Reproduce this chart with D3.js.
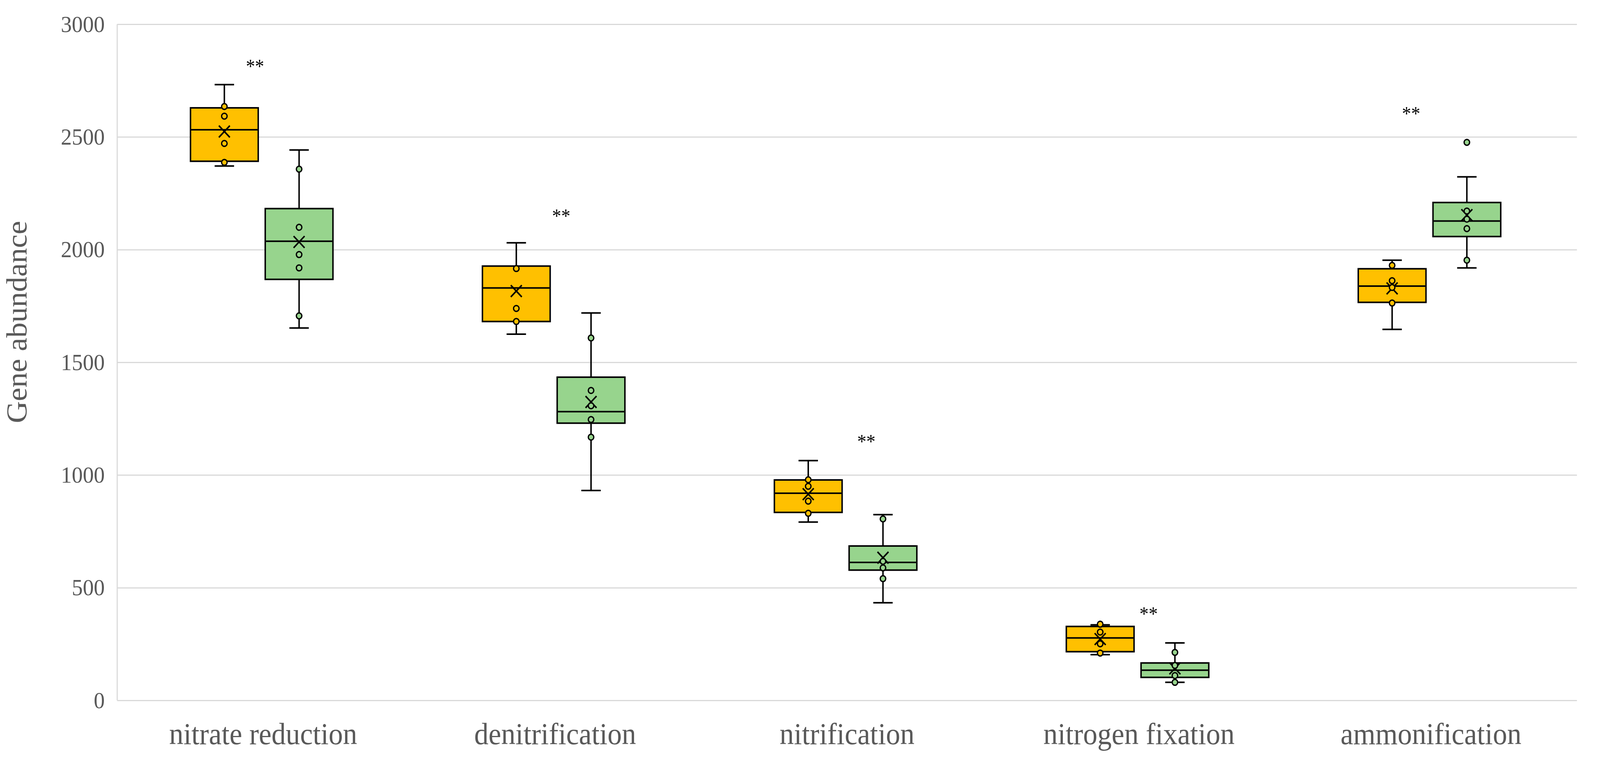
<!DOCTYPE html>
<html>
<head>
<meta charset="utf-8">
<script src="https://cdn.jsdelivr.net/npm/d3@7"></script>
<style>
  html, body { margin: 0; padding: 0; background: #fff; overflow: hidden; }
  svg { display: block; }
  text { font-family: "Liberation Serif", "DejaVu Serif", serif; }
</style>
</head>
<body>
<svg id="chart"></svg>
<script>
// categories on the x axis
var categories = ["nitrate reduction", "denitrification", "nitrification", "nitrogen fixation", "ammonification"];
var series = ["orange", "green"];

// box stats per category: [whisker low, q1, median, q3, whisker high]
var orangeBoxes = [
    [2371, 2392, 2532, 2629, 2732],
    [1625, 1681, 1830, 1927, 2030],
    [791, 834, 919, 978, 1064],
    [203, 216, 277, 328, 335],
    [1646, 1766, 1838, 1915, 1953]
];
var greenBoxes = [
    [1652, 1868, 2037, 2182, 2442],
    [931, 1230, 1281, 1434, 1719],
    [433, 578, 612, 685, 824],
    [80, 102, 134, 166, 255],
    [1919, 2058, 2127, 2209, 2323]
];

// means (x markers)
var orangeMeans = [2524, 1816, 915, 272, 1828];
var greenMeans = [2034, 1324, 633, 142, 2153];

// inner points shown in each box
var orangePoints = [
    [2635, 2592, 2471, 2387],
    [1916, 1739, 1681],
    [979, 950, 884, 830],
    [338, 303, 251, 210],
    [1930, 1862, 1832, 1763]
];
var greenPoints = [
    [2357, 2099, 1978, 1919, 1706],
    [1608, 1375, 1307, 1246, 1168],
    [805, 617, 588, 540],
    [213, 155, 110, 80],
    [2476, 2171, 2135, 2093, 1953]
];

// significance marks, height in data units
var starLabels = ["**", "**", "**", "**", "**"];
var starValues = [2839, 2174, 1174, 409, 2629];

var yTicks = [0, 500, 1000, 1500, 2000, 2500, 3000];

// layout
var W = 4368, H = 1942;
var margin = {top: 62, right: 63, bottom: 150, left: 320};
var width = W - margin.left - margin.right,
    height = H - margin.top - margin.bottom;
var starShift = [-0.028, 0.021, 0.066, 0.033, -0.068]; // fraction of band, hand placed labels
var colors = {orange: "#FFC000", green: "#97D48D"};
var textColor = "#595959";

// drawn in a 4368x1942 frame, stretched to whatever the window is
var root = d3.select("#chart")
    .attr("viewBox", "0 0 " + W + " " + H)
    .attr("preserveAspectRatio", "none")
    .style("width", "100vw")
    .style("height", "100vh");

var svg = root.append("g")
    .attr("transform", "translate(" + margin.left + "," + margin.top + ")");

// scales
var x = d3.scaleBand().domain(categories).range([0, width]);
var bw = x.bandwidth();
var xs = d3.scalePoint().domain(series).range([bw * 0.367, bw * 0.623]);
var y = d3.scaleLinear().domain([0, 3000]).range([height, 0]);

var boxW = bw * 0.232, capW = 53, markR = 15;

// gridlines
var yAxis = svg.append("g")
    .call(d3.axisLeft(y).tickValues(yTicks).tickSize(-width).tickFormat(d3.format("d")).tickPadding(34));
yAxis.select(".domain").remove();
yAxis.selectAll(".tick line").attr("stroke", "#D9D9D9").attr("stroke-width", 3);
yAxis.selectAll(".tick text")
    .attr("fill", textColor)
    .style("font-size", "60px");

// left axis line
svg.append("line")
    .attr("x1", 0).attr("x2", 0)
    .attr("y1", y(3000)).attr("y2", y(0))
    .attr("stroke", "#D9D9D9").attr("stroke-width", 3);

// x axis labels
var xAxis = svg.append("g")
    .attr("transform", "translate(0," + height + ")")
    .call(d3.axisBottom(x).tickSize(0).tickPadding(57));
xAxis.select(".domain").remove();
xAxis.selectAll(".tick text")
    .attr("fill", textColor)
    .style("font-size", "78px");

// y axis title
svg.append("text")
    .attr("transform", "rotate(-90)")
    .attr("x", -(y(0) + y(3000)) / 2 + 103)
    .attr("y", -margin.left + 72)
    .style("text-anchor", "middle")
    .style("font-size", "78px")
    .attr("fill", textColor)
    .text("Gene abundance");

// build one list of boxes
var boxes = [];
categories.forEach(function(c, i) {
    boxes.push({cat: c, s: "orange", st: orangeBoxes[i], mean: orangeMeans[i], pts: orangePoints[i]});
    boxes.push({cat: c, s: "green", st: greenBoxes[i], mean: greenMeans[i], pts: greenPoints[i]});
});

var g = svg.selectAll(".box")
    .data(boxes)
    .enter()
    .append("g")
    .attr("class", "box")
    .attr("transform", function(d) { return "translate(" + (x(d.cat) + xs(d.s)) + ",0)"; });

// whiskers
g.append("line")
    .attr("x1", 0).attr("x2", 0)
    .attr("y1", function(d) { return y(d.st[4]); })
    .attr("y2", function(d) { return y(d.st[3]); })
    .attr("stroke", "#000").attr("stroke-width", 4);
g.append("line")
    .attr("x1", 0).attr("x2", 0)
    .attr("y1", function(d) { return y(d.st[1]); })
    .attr("y2", function(d) { return y(d.st[0]); })
    .attr("stroke", "#000").attr("stroke-width", 4);
[0, 4].forEach(function(k) {
    g.append("line")
        .attr("x1", -capW / 2).attr("x2", capW / 2)
        .attr("y1", function(d) { return y(d.st[k]); })
        .attr("y2", function(d) { return y(d.st[k]); })
        .attr("stroke", "#000").attr("stroke-width", 4);
});

// box
g.append("rect")
    .attr("x", -boxW / 2)
    .attr("width", boxW)
    .attr("y", function(d) { return y(d.st[3]); })
    .attr("height", function(d) { return y(d.st[1]) - y(d.st[3]); })
    .attr("fill", function(d) { return colors[d.s]; })
    .attr("stroke", "#000").attr("stroke-width", 4);

// median
g.append("line")
    .attr("x1", -boxW / 2).attr("x2", boxW / 2)
    .attr("y1", function(d) { return y(d.st[2]); })
    .attr("y2", function(d) { return y(d.st[2]); })
    .attr("stroke", "#000").attr("stroke-width", 4);

// mean marker
g.append("path")
    .attr("d", function(d) {
        var m = y(d.mean);
        return "M" + (-markR) + "," + (m - markR) + "L" + markR + "," + (m + markR) +
               "M" + (-markR) + "," + (m + markR) + "L" + markR + "," + (m - markR);
    })
    .attr("stroke", "#000").attr("stroke-width", 4).attr("fill", "none");

// inner points
g.selectAll("circle")
    .data(function(d) { return d.pts.map(function(v) { return {v: v, s: d.s}; }); })
    .enter()
    .append("circle")
    .attr("cx", 0)
    .attr("cy", function(d) { return y(d.v); })
    .attr("r", 7.5)
    .attr("fill", function(d) { return colors[d.s]; })
    .attr("stroke", "#000").attr("stroke-width", 3.5);

// significance labels
svg.selectAll(".star")
    .data(categories)
    .enter()
    .append("text")
    .attr("class", "star")
    .attr("x", function(d, i) { return x(d) + bw / 2 + starShift[i] * bw; })
    .attr("y", function(d, i) { return y(starValues[i]); })
    .attr("dy", "0.62em")
    .style("text-anchor", "middle")
    .style("font-size", "50px")
    .attr("fill", "#000")
    .text(function(d, i) { return starLabels[i]; });
</script>
</body>
</html>
